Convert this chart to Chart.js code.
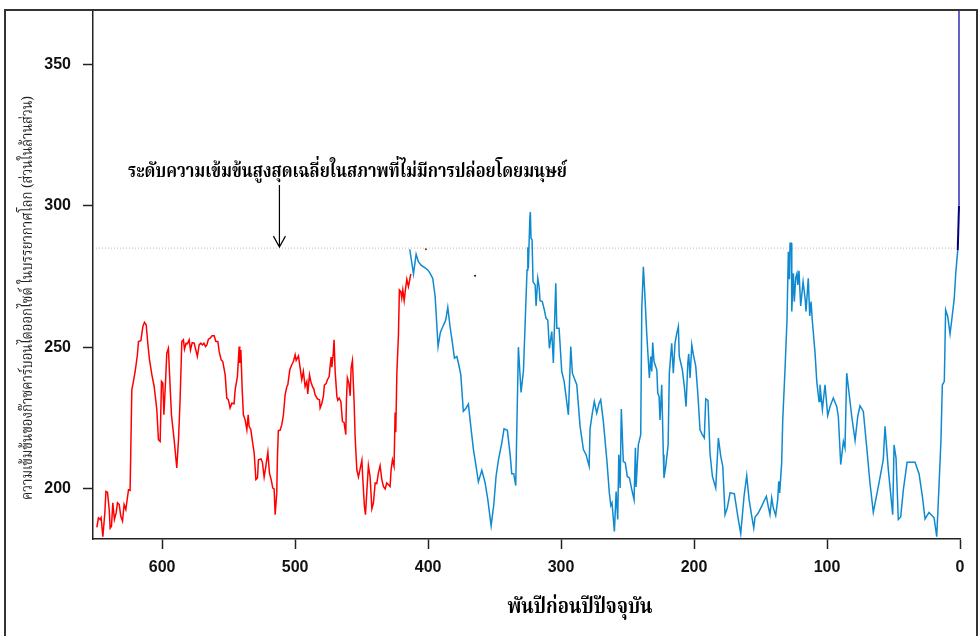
<!DOCTYPE html>
<html>
<head>
<meta charset="utf-8">
<script src="https://cdn.jsdelivr.net/npm/chart.js@4.4.1/dist/chart.umd.min.js"></script>
<style>
  html, body { margin: 0; padding: 0; background: #fff; }
  #wrap { width: 978px; height: 636px; }
</style>
</head>
<body>
<div id="wrap"><canvas id="co2Chart" width="978" height="636"></canvas></div>
<script>
// CO2 record, [thousand years before present, ppm]
const oldCoreSeries = [
  [649.1,186.3],[647.9,189.7],[646.6,189.1],[645.9,189.7],[644.6,183.0],[643.1,191.4],[642.3,199.0],[641.1,198.7],[639.8,192.6],[639.1,186.0],
  [638.1,186.7],[637.1,195.0],[635.9,189.1],[634.6,191.4],[633.6,195.0],[632.3,194.4],[631.1,190.2],[629.8,188.5],[628.6,194.4],[627.3,192.6],
  [625.3,199.6],[624.1,199.4],[622.8,234.9],[621.6,237.9],[620.3,241.4],[618.6,247.3],[617.8,252.0],[616.0,252.3],[614.5,257.3],[613.3,258.8],
  [612.0,257.9],[610.8,251.4],[609.5,245.5],[607.7,240.2],[606.0,236.1],[604.0,227.9],[602.8,217.3],[601.5,216.7],[600.5,237.9],[599.5,237.3],
  [598.7,226.1],[597.5,237.3],[596.5,247.9],[595.3,249.6],[594.0,236.1],[593.0,226.1],[591.0,217.3],[589.0,207.3],[587.7,217.3],[586.5,231.4],
  [585.2,252.0],[584.0,252.6],[583.2,249.3],[582.0,251.4],[581.0,251.2],[579.7,252.6],[578.7,249.0],[577.4,251.6],[575.9,251.4],[574.7,249.0],
  [573.5,246.7],[572.2,250.8],[570.9,251.4],[569.7,250.8],[568.6,251.4],[567.4,250.2],[566.4,250.8],[565.2,252.8],[563.9,253.2],[562.4,254.0],
  [560.9,254.0],[559.6,252.0],[558.1,252.0],[557.1,248.4],[555.6,245.5],[554.4,244.9],[552.6,240.2],[551.4,232.0],[550.2,231.4],[548.9,228.5],
  [547.6,230.2],[545.9,230.0],[545.1,234.9],[543.4,239.6],[542.1,250.2],[541.6,244.4],[540.8,249.0],[539.8,234.9],[538.9,226.1],[537.6,224.3],
  [536.3,220.8],[535.3,226.1],[534.6,222.0],[533.3,220.8],[532.1,216.7],[530.8,212.6],[529.5,203.2],[528.3,203.8],[527.6,210.2],[525.6,210.5],
  [524.6,209.3],[523.3,204.1],[522.0,207.9],[520.5,212.9],[519.3,205.5],[518.0,203.2],[516.8,200.2],[515.8,199.9],[515.0,190.8],[513.8,198.5],
  [513.3,211.4],[512.6,220.5],[511.3,220.6],[510.0,222.6],[508.8,226.1],[507.5,233.2],[506.2,236.1],[505.5,236.7],[504.0,242.0],[502.5,243.8],
  [501.3,244.9],[500.0,247.3],[499.2,245.3],[497.5,246.9],[496.2,242.6],[495.0,238.5],[493.8,241.4],[492.5,236.1],[491.2,237.9],[490.5,233.5],
  [489.2,240.2],[488.2,237.9],[487.0,236.1],[485.9,235.2],[485.0,233.2],[483.2,231.7],[481.7,231.4],[481.2,228.5],[479.9,230.2],[478.7,232.8],
  [478.0,236.6],[476.7,237.1],[475.7,238.5],[474.4,239.6],[473.7,243.2],[472.9,246.5],[472.4,242.9],[471.4,247.3],[470.7,252.6],[469.9,241.4],
  [468.6,232.6],[467.9,231.2],[466.9,232.0],[465.6,230.8],[464.4,223.7],[463.2,223.4],[461.9,219.1],[461.4,231.4],[460.7,239.1],[459.6,237.3],
  [458.6,232.8],[457.9,242.6],[456.9,245.3],[455.6,230.2],[454.9,218.5],[453.6,206.7],[452.4,204.1],[451.1,207.0],[449.8,210.0],[449.1,203.4],
  [447.9,193.8],[447.1,190.8],[445.9,200.2],[444.9,208.1],[443.6,204.1],[442.3,192.9],[441.1,195.0],[439.8,202.0],[438.6,201.8],[437.4,205.5],
  [436.1,208.1],[434.8,203.2],[433.6,200.8],[432.3,199.9],[431.1,202.0],[429.8,201.4],[428.6,200.8],[427.8,206.7],[426.8,210.2],[425.6,207.9],
  [424.8,226.9],[424.3,219.9],[423.5,240.8],[422.3,254.3],[421.6,270.2],[420.5,269.6],[419.8,267.3],[419.0,270.2],[418.0,266.4],[416.8,271.2],
  [416.0,274.0],[414.8,271.4],[414.1,273.1],[413.0,275.9]
];

const vostokSeries = [
  [413.8,284.6],[411.0,275.9],[409.0,282.8],[407.3,280.2],[405.3,279.0],[402.8,278.2],[400.2,277.3],[398.5,276.1],[396.5,274.3],[394.7,267.9],
  [392.5,250.2],[390.8,255.2],[388.9,257.3],[387.2,259.0],[386.5,260.2],[385.2,264.1],[383.5,257.3],[381.7,251.4],[380.2,246.1],[378.4,246.7],
  [377.2,244.4],[375.4,240.2],[373.5,227.3],[371.4,228.5],[369.7,229.9],[367.9,222.0],[365.9,213.8],[363.9,207.9],[362.2,202.4],[359.6,206.5],
  [357.1,202.0],[355.1,196.1],[352.6,186.9],[350.6,194.4],[348.9,204.3],[347.1,210.2],[344.6,216.1],[342.9,221.1],[340.4,220.6],[338.3,212.0],
  [337.1,205.3],[335.6,205.3],[334.1,201.1],[333.1,225.5],[332.1,250.0],[330.1,234.0],[328.3,241.6],[327.1,257.3],[325.6,277.3],[325.0,285.3],
  [324.6,277.9],[323.5,295.5],[323.1,297.8],[322.6,288.5],[321.8,287.9],[321.1,273.1],[319.5,272.0],[318.8,264.6],[317.5,274.3],[316.5,271.2],
  [315.8,266.4],[314.1,266.1],[312.6,263.2],[311.3,260.2],[310.0,259.6],[308.8,249.6],[307.0,255.5],[305.8,244.4],[304.0,272.6],[303.2,256.7],
  [301.5,256.7],[299.5,241.4],[297.7,237.9],[294.5,226.1],[292.7,250.2],[291.5,240.8],[288.2,236.7],[285.7,222.0],[283.2,213.8],[281.2,212.0],
  [278.9,207.9],[278.2,221.1],[276.5,226.7],[275.0,230.8],[273.2,226.7],[271.4,230.2],[270.2,231.4],[268.2,223.7],[265.6,210.2],[263.7,198.5],
  [262.6,194.0],[261.7,195.0],[259.9,184.9],[258.6,199.0],[257.4,189.1],[256.6,212.0],[255.6,200.2],[254.7,228.1],[253.2,209.6],[251.7,209.1],
  [250.2,204.3],[248.6,203.8],[246.8,199.6],[245.1,196.1],[244.1,214.4],[243.6,200.6],[241.9,215.5],[240.1,219.1],[239.3,263.8],[238.1,278.4],
  [236.8,266.7],[235.6,254.9],[233.6,239.1],[232.6,246.7],[231.8,241.4],[231.1,251.6],[230.1,244.9],[228.0,242.0],[227.3,233.8],[226.3,232.6],
  [225.6,224.3],[224.3,236.7],[223.1,212.0],[222.6,203.8],[221.3,207.9],[220.1,212.8],[219.5,215.5],[218.6,240.8],[216.8,251.4],[215.6,240.8],
  [214.3,251.4],[213.0,254.9],[211.8,257.3],[211.1,246.7],[208.8,242.0],[207.3,236.1],[206.0,229.0],[204.7,244.4],[204.0,247.6],[203.0,239.1],
  [201.7,250.8],[200.5,247.3],[198.7,243.2],[197.2,233.8],[195.5,220.8],[193.8,219.1],[192.3,217.9],[191.2,231.7],[189.5,231.2],[188.0,212.6],
  [186.2,204.3],[183.7,200.2],[181.7,217.9],[179.9,211.4],[178.4,207.9],[176.7,190.8],[175.0,193.2],[172.9,198.5],[169.7,198.2],[167.1,190.2],
  [164.9,184.1],[162.4,197.3],[160.4,204.6],[158.6,196.1],[156.6,190.2],[155.1,186.1],[154.1,190.0],[151.7,191.4],[149.1,193.8],[147.1,195.9],
  [145.6,197.3],[144.1,193.5],[142.9,190.8],[141.6,196.7],[140.4,193.2],[138.6,190.5],[137.1,196.1],[136.3,202.6],[135.6,198.5],[134.1,209.1],
  [133.3,224.3],[131.6,242.0],[130.1,259.6],[129.1,283.7],[128.3,274.0],[127.8,286.7],[126.8,286.7],[126.5,262.6],[125.3,276.1],[124.6,266.1],
  [123.5,274.7],[122.6,276.1],[122.0,272.0],[121.1,277.0],[119.8,264.6],[118.0,273.1],[116.5,267.3],[115.8,262.6],[114.1,274.3],[113.0,261.0],
  [112.0,266.1],[111.1,259.6],[109.0,247.9],[107.7,237.8],[106.0,230.8],[105.3,236.7],[103.5,227.9],[101.5,236.7],[99.5,225.8],[97.7,229.0],
  [95.3,232.0],[92.7,229.0],[91.5,225.5],[89.7,208.5],[87.7,216.7],[86.5,214.4],[85.2,240.8],[84.0,236.1],[81.4,225.5],[78.9,217.0],
  [76.9,225.5],[75.2,229.3],[72.7,227.3],[70.2,214.9],[67.7,202.0],[65.2,191.6],[61.4,200.8],[57.7,210.2],[56.4,222.0],[53.9,206.7],
  [50.6,190.8],[49.6,215.5],[48.1,210.8],[46.4,189.1],[44.6,190.0],[42.6,199.6],[39.8,209.3],[36.3,209.3],[33.8,209.3],[30.8,205.3],
  [28.3,197.3],[26.3,189.3],[23.3,191.6],[19.5,189.7],[17.5,183.0],[15.8,200.8],[14.3,217.3],[13.3,236.6],[11.8,237.9],[10.8,263.2],
  [9.2,260.8],[7.5,254.7],[6.2,259.6],[4.3,267.3],[3.2,276.1],[1.7,284.3]
];

// industrial era, shoots off the top of the chart
const modernSeries = [[1.7,284.3],[0.75,300],[0.75,400]];
const specks = [[364.7,275.2],[401.7,284.6]];

const preIndustrialPpm = 285;
const xTicks = [0, 100, 200, 300, 400, 500, 600];
const yTicks = [200, 250, 300, 350];
const xRange = [0, 652];
const yRange = [182.2, 368.8];

const noteText = 'ระดับความเข้มข้นสูงสุดเฉลี่ยในสภาพที่ไม่มีการปล่อยโดยมนุษย์';
const xTitle = 'พันปีก่อนปีปัจจุบัน';
const yTitle = 'ความเข้มข้นของก๊าซคาร์บอนไดออกไซด์ ในบรรยากาศโลก (ส่วนในล้านส่วน)';

const THAI_FONT = '"Noto Serif Thai", "Noto Sans Thai", "Tlwg Typo", Garuda, Loma, "DejaVu Serif", serif';
const NUM_FONT = '"Liberation Sans", Arial, sans-serif';

const toPoints = rows => rows.map(r => ({ x: r[0], y: r[1] }));

// squeeze/stretch text horizontally so it covers the same width as in the picture
function drawFitted(ctx, text, x, y, width, font, align) {
  ctx.font = font;
  const w = ctx.measureText(text).width;
  const sx = Math.min(1.6, Math.max(0.55, width / w));
  ctx.save();
  ctx.translate(x, y);
  ctx.scale(sx, 1);
  ctx.textAlign = align;
  ctx.fillText(text, 0, 0);
  ctx.restore();
}

const decorations = {
  id: 'decorations',
  afterDraw(chart) {
    const { ctx, scales } = chart;
    const xs = scales.x, ys = scales.y;
    ctx.save();

    // outer frame
    ctx.strokeStyle = '#333';
    ctx.lineWidth = 2;
    ctx.beginPath();
    ctx.moveTo(5, 640);
    ctx.lineTo(5, 10);
    ctx.lineTo(977, 10);
    ctx.lineTo(977, 640);
    ctx.stroke();

    ctx.fillStyle = '#000';
    ctx.textBaseline = 'alphabetic';

    // annotation + arrow
    drawFitted(ctx, noteText, 128, 177, 439, 'bold 20px ' + THAI_FONT, 'left');
    const ax = xs.getPixelForValue(511.8);
    const aTop = ys.getPixelForValue(307.3);
    const aBot = ys.getPixelForValue(preIndustrialPpm) - 1;
    ctx.strokeStyle = '#000';
    ctx.lineWidth = 1.2;
    ctx.beginPath();
    ctx.moveTo(ax, aTop);
    ctx.lineTo(ax, aBot);
    ctx.moveTo(ax - 6, aBot - 11);
    ctx.lineTo(ax, aBot);
    ctx.lineTo(ax + 6, aBot - 11);
    ctx.stroke();

    // axis titles
    drawFitted(ctx, xTitle, 580, 613, 145, 'bold 22px ' + THAI_FONT, 'center');

    ctx.save();
    ctx.translate(32, 298);
    ctx.rotate(-Math.PI / 2);
    ctx.fillStyle = '#222';
    drawFitted(ctx, yTitle, 0, 0, 404, '15px ' + THAI_FONT, 'center');
    ctx.restore();

    ctx.restore();
  }
};

const axisStyle = {
  border: { color: '#222', width: 1.5 },
  grid: { drawOnChartArea: false, drawTicks: true, tickLength: 10, tickColor: '#222', tickWidth: 1.5 },
  ticks: { color: '#111', font: { family: NUM_FONT, size: 16, weight: 'bold' }, maxRotation: 0, autoSkip: false }
};

new Chart(document.getElementById('co2Chart'), {
  type: 'line',
  data: {
    datasets: [
      {
        label: 'modern',
        data: toPoints(modernSeries),
        borderWidth: 2,
        borderColor: '#6464c8',
        segment: { borderColor: c => c.p0DataIndex === 0 ? '#000080' : '#6464c8' }
      },
      { label: 'vostok', data: toPoints(vostokSeries), borderColor: '#0f8ad0', borderWidth: 1.5 },
      { label: 'epica', data: toPoints(oldCoreSeries), borderColor: '#ff0000', borderWidth: 1.5 },
      {
        label: 'specks',
        data: toPoints(specks),
        showLine: false,
        pointRadius: 1,
        pointBackgroundColor: ['#111', '#8a1a1a'],
        pointBorderWidth: 0
      },
      {
        label: 'pre-industrial',
        data: [{ x: xRange[1], y: preIndustrialPpm }, { x: xRange[0], y: preIndustrialPpm }],
        borderColor: 'rgba(205,150,150,0.75)',
        borderWidth: 1,
        borderDash: [1, 2]
      }
    ]
  },
  options: {
    responsive: false,
    animation: false,
    elements: { point: { radius: 0 }, line: { tension: 0 } },
    layout: { padding: { left: 0, right: 18, top: 11, bottom: 0 } },
    plugins: { legend: { display: false }, tooltip: { enabled: false } },
    scales: {
      x: {
        type: 'linear',
        reverse: true,
        min: xRange[0],
        max: xRange[1],
        border: axisStyle.border,
        grid: axisStyle.grid,
        ticks: Object.assign({ padding: 9 }, axisStyle.ticks),
        afterBuildTicks: scale => { scale.ticks = xTicks.map(v => ({ value: v })); },
        afterFit: scale => { scale.height = 97; scale.paddingLeft = 0; scale.paddingRight = 0; }
      },
      y: {
        type: 'linear',
        min: yRange[0],
        max: yRange[1],
        border: axisStyle.border,
        grid: axisStyle.grid,
        ticks: Object.assign({ padding: 12 }, axisStyle.ticks),
        afterBuildTicks: scale => { scale.ticks = yTicks.map(v => ({ value: v })); },
        afterFit: scale => { scale.width = 93; scale.paddingTop = 0; scale.paddingBottom = 0; }
      }
    }
  },
  plugins: [decorations]
});
</script>
</body>
</html>
